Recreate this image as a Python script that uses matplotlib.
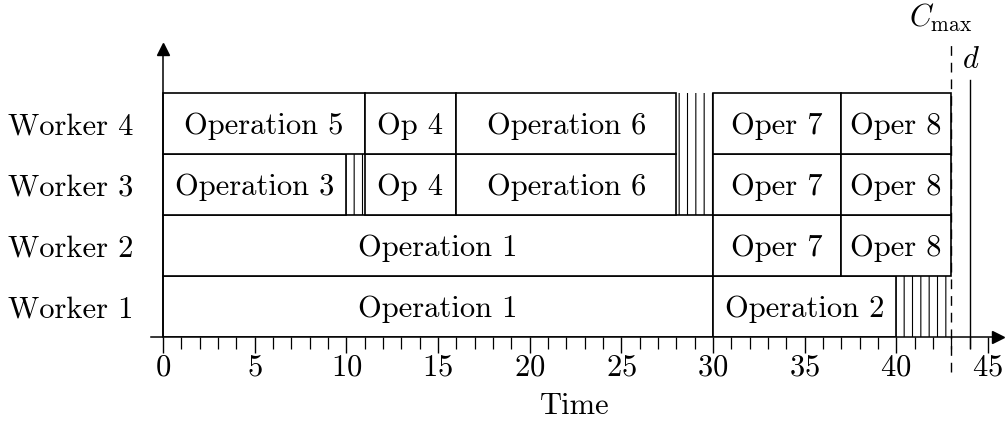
import numpy as np
import matplotlib
matplotlib.use("Agg")
import matplotlib.pyplot as plt
from matplotlib.ticker import MultipleLocator

plt.rcParams["font.family"] = "cmr10"
plt.rcParams["mathtext.fontset"] = "cm"
plt.rcParams["axes.unicode_minus"] = False
plt.rcParams["axes.formatter.use_mathtext"] = True
plt.rcParams["hatch.linewidth"] = 0.8

FONT_SIZE = 22

workers = ["Worker 1", "Worker 2", "Worker 3", "Worker 4"]

# operations: row index (0 = Worker 1), label, start, end
op_row   = [0, 0, 1, 1, 1, 2, 2, 2, 2, 2, 3, 3, 3, 3, 3]
op_label = ["Operation 1", "Operation 2",
            "Operation 1", "Oper 7", "Oper 8",
            "Operation 3", "Op 4", "Operation 6", "Oper 7", "Oper 8",
            "Operation 5", "Op 4", "Operation 6", "Oper 7", "Oper 8"]
op_start = [0, 30, 0, 30, 37, 0, 11, 16, 30, 37, 0, 11, 16, 30, 37]
op_end   = [30, 40, 30, 37, 43, 10, 16, 28, 37, 43, 11, 16, 28, 37, 43]

# idle (hatched) intervals
idle_row   = [0, 2, 2, 3]
idle_start = [40, 10, 28, 28]
idle_end   = [43, 11, 30, 30]

c_max = 43
due = 44

# layout: pixels per time unit / per row, origin in pixels
PX_X, PX_Y = 18.33, 61.0
X0_PX, Y0_PX = 163, 337
X_MIN, X_MAX = -0.65, 45.55
Y_MAX = 4.72

fig = plt.figure(figsize=(10.08, 4.28), dpi=100)
left = (X0_PX + X_MIN * PX_X) / 1008
width = (X_MAX - X_MIN) * PX_X / 1008
bottom = (428 - Y0_PX) / 428
height = Y_MAX * PX_Y / 428
ax = fig.add_axes([left, bottom, width, height])

op_row = np.array(op_row)
op_start = np.array(op_start)
op_end = np.array(op_end)
idle_row = np.array(idle_row)
idle_start = np.array(idle_start)
idle_end = np.array(idle_end)

ax.barh(idle_row + 0.5, idle_end - idle_start, left=idle_start, height=1,
        facecolor="none", edgecolor="black", linewidth=0, hatch="||", zorder=1)
ax.barh(op_row + 0.5, op_end - op_start, left=op_start, height=1,
        facecolor="white", edgecolor="black", linewidth=1.2, zorder=2)

for r, lab, s, e in zip(op_row, op_label, op_start, op_end):
    ax.text((s + e) / 2, r + 0.5, lab, ha="center", va="center_baseline",
            fontsize=FONT_SIZE, zorder=3)

# C_max and due date markers
ax.plot([c_max, c_max], [-0.57, 4.80], color="black", lw=1.0,
        dashes=(7, 5), clip_on=False, zorder=4)
ax.text(c_max - 0.6, 5.23, r"$C_{\max}$", ha="center", va="center",
        fontsize=FONT_SIZE)
ax.plot([due, due], [-0.18, 4.21], color="black", lw=1.0, clip_on=False, zorder=4)
ax.text(due + 0.05, 4.54, r"$d$", ha="center", va="center", fontsize=FONT_SIZE)

ax.set_xlim(X_MIN, X_MAX)
ax.set_ylim(0, Y_MAX)

ax.spines["top"].set_visible(False)
ax.spines["right"].set_visible(False)
ax.spines["left"].set_position(("data", 0))
ax.spines["left"].set_linewidth(1.1)
ax.spines["bottom"].set_linewidth(1.1)

# arrow heads
ax.plot([1], [0], marker=">", color="black", markersize=8,
        transform=ax.get_yaxis_transform(), clip_on=False)
ax.plot([0], [1], marker="^", color="black", markersize=8,
        transform=ax.get_xaxis_transform(), clip_on=False)

ax.xaxis.set_major_locator(MultipleLocator(5))
ax.xaxis.set_minor_locator(MultipleLocator(1))
ax.tick_params(axis="x", which="major", direction="out", length=11.5, width=1.0,
               labelsize=FONT_SIZE, pad=1)
ax.tick_params(axis="x", which="minor", direction="out", length=8.5, width=0.9)

ax.set_yticks(np.arange(len(workers)) + 0.5)
ax.set_yticklabels(workers)
ax.tick_params(axis="y", length=0, labelsize=FONT_SIZE, pad=21)

ax.set_xlabel("Time", fontsize=FONT_SIZE, labelpad=8)

fig.savefig("out.png", dpi=100)
